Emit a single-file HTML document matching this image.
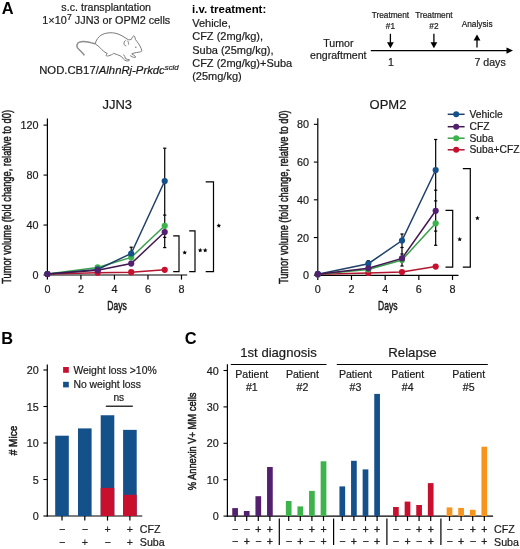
<!DOCTYPE html><html><head><meta charset="utf-8"><title>Figure</title><style>html,body{margin:0;padding:0;background:#fff;width:520px;height:549px;overflow:hidden}svg{display:block;will-change:transform}text{font-family:"Liberation Sans",sans-serif}</style></head><body><svg width="520" height="549" viewBox="0 0 520 549"><rect width="520" height="549" fill="#fff"/><text x="1.7" y="13.6" font-size="16.4" font-weight="bold" fill="#000">A</text>
<text x="106.2" y="10.5" font-size="10.7" text-anchor="middle" fill="#1a1a1a" stroke="#1a1a1a" stroke-width="0.2">s.c. transplantation</text>
<text x="106.3" y="23.9" font-size="10.8" text-anchor="middle" fill="#1a1a1a" stroke="#1a1a1a" stroke-width="0.2">1×10<tspan font-size="8.6" dx="0.4" dy="-4.2">7</tspan><tspan dy="4.2"> JJN3 or OPM2 cells</tspan></text>
<path d="M84.4,55.3 C82.6,52.6 79.2,50.2 77.4,47.6 C76.3,45.6 77,43 79.5,42.1 C82.2,41.3 86,41.6 89,42.2 C91.5,42.7 93.5,43.3 95.2,43.8" stroke="#8c8c8c" stroke-width="1.5" fill="none"/>
<path d="M95.2,43.8 C96,40 98.5,36.5 102,34.6 C105,33.2 109,32.5 112.7,32.8 C117,33.2 121,35 125,37.6 C126.5,38.6 127.6,39.4 128.4,39.7 C129.4,39.9 130.4,39.8 131.3,39.4 C132,37.8 132.8,36.2 133.6,35.9 C134.6,35.8 135.2,37.5 135.4,39.5 C137.5,42 140,45.5 141.2,48.6 C141.8,49.8 141.9,50.8 141.6,51.3 C140.5,52 138.5,52.3 136.5,52.5 C134.5,52.8 133,53.3 131.8,53.9 C133,54.6 134.8,55.6 135.8,57 C134.8,57.6 133.6,57.5 132.6,57 C131.8,56.5 131,56 130.2,55.6 M123.5,54.6 C124.5,55.8 125.2,57.2 125.5,58.6 C126.6,59.2 128.2,59.6 129.6,59.9 C129,60.8 127.5,61.1 126.2,60.8 C125,60.4 124.2,59.8 123.6,59.1 C122.8,58.3 122,57.3 121.3,56.4 C119,55.2 116,54 113.5,53.4 C112.6,54.4 110.6,55.2 108.5,55.8 C107.5,56.2 106.3,56.2 106.2,55.4 C106.3,54.5 106.8,53.8 107.2,53.4 C104,52 102,50 100.5,48.2 C99,46.5 97,45 95.2,43.8 M125.6,40.4 C124.2,41.2 123.6,43 124.3,44.7 C124.8,45.6 125.6,46 126.2,45.9 M127.2,40.6 C128.3,41.5 128.8,43 128.6,44.6" stroke="#7a7a7a" stroke-width="1.0" fill="none"/>
<circle cx="135.80" cy="47.20" r="0.75" fill="#7a7a7a"/>
<text x="39.2" y="74.1" font-size="11.3" fill="#1a1a1a" stroke="#1a1a1a" stroke-width="0.2">NOD.CB17/<tspan font-style="italic">AlhnRj-Prkdc<tspan font-size="7.8" dy="-4.2">scid</tspan></tspan></text>
<text x="192.1" y="13" font-size="11.45" font-weight="bold" fill="#000">i.v. treatment:</text>
<text x="192.2" y="26.7" font-size="11" fill="#1a1a1a" stroke="#1a1a1a" stroke-width="0.2">Vehicle,</text>
<text x="192.2" y="40.1" font-size="11" fill="#1a1a1a" stroke="#1a1a1a" stroke-width="0.2">CFZ (2mg/kg),</text>
<text x="192.2" y="53.5" font-size="11" fill="#1a1a1a" stroke="#1a1a1a" stroke-width="0.2">Suba (25mg/kg),</text>
<text x="192.2" y="66.9" font-size="11" fill="#1a1a1a" stroke="#1a1a1a" stroke-width="0.2">CFZ (2mg/kg)+Suba</text>
<text x="192.2" y="80.3" font-size="11" fill="#1a1a1a" stroke="#1a1a1a" stroke-width="0.2">(25mg/kg)</text>
<text x="338.4" y="46.6" font-size="10.6" text-anchor="middle" fill="#1a1a1a" stroke="#1a1a1a" stroke-width="0.2">Tumor</text>
<text x="338.3" y="59.2" font-size="10.6" text-anchor="middle" fill="#1a1a1a" stroke="#1a1a1a" stroke-width="0.2">engraftment</text>
<line x1="370.8" y1="50.6" x2="508" y2="50.6" stroke="#000" stroke-width="1.3"/>
<path d="M513,50.6 L506.5,47.4 L506.5,53.8 Z" stroke="#000" stroke-width="0" fill="#000"/>
<text x="390.4" y="18" font-size="8.3" text-anchor="middle" fill="#1a1a1a" stroke="#1a1a1a" stroke-width="0.2">Treatment</text>
<text x="390.4" y="28.6" font-size="8.3" text-anchor="middle" fill="#1a1a1a" stroke="#1a1a1a" stroke-width="0.2">#1</text>
<line x1="390.4" y1="33.8" x2="390.4" y2="43" stroke="#000" stroke-width="1.3"/>
<path d="M390.4,48.2 L387.0,42.2 L393.79999999999995,42.2 Z" stroke="#000" stroke-width="0" fill="#000"/>
<text x="433.9" y="18" font-size="8.3" text-anchor="middle" fill="#1a1a1a" stroke="#1a1a1a" stroke-width="0.2">Treatment</text>
<text x="433.9" y="28.6" font-size="8.3" text-anchor="middle" fill="#1a1a1a" stroke="#1a1a1a" stroke-width="0.2">#2</text>
<line x1="433.9" y1="33.8" x2="433.9" y2="43" stroke="#000" stroke-width="1.3"/>
<path d="M433.9,48.2 L430.5,42.2 L437.29999999999995,42.2 Z" stroke="#000" stroke-width="0" fill="#000"/>
<text x="477.1" y="26.9" font-size="8.3" text-anchor="middle" fill="#1a1a1a" stroke="#1a1a1a" stroke-width="0.2">Analysis</text>
<line x1="477" y1="39" x2="477" y2="47.6" stroke="#000" stroke-width="1.3"/>
<path d="M477,34.6 L473.6,40.4 L480.4,40.4 Z" stroke="#000" stroke-width="0" fill="#000"/>
<text x="390.9" y="66" font-size="10.6" text-anchor="middle" fill="#1a1a1a" stroke="#1a1a1a" stroke-width="0.2">1</text>
<text x="474.5" y="66" font-size="10.6" fill="#1a1a1a" stroke="#1a1a1a" stroke-width="0.2">7 days</text>
<text x="117.2" y="109.4" font-size="13" text-anchor="middle" fill="#1a1a1a" stroke="#1a1a1a" stroke-width="0.2">JJN3</text>
<line x1="47.4" y1="118.5" x2="47.4" y2="275.6" stroke="#000" stroke-width="1.2"/>
<line x1="46.8" y1="275" x2="187.2" y2="275" stroke="#000" stroke-width="1.2"/>
<line x1="43.5" y1="275.0" x2="47.4" y2="275.0" stroke="#000" stroke-width="1.1"/>
<text x="38.599999999999994" y="279.1" font-size="10.8" text-anchor="end" fill="#1a1a1a" stroke="#1a1a1a" stroke-width="0.2">0</text>
<line x1="43.5" y1="225.04" x2="47.4" y2="225.04" stroke="#000" stroke-width="1.1"/>
<text x="38.599999999999994" y="229.14" font-size="10.8" text-anchor="end" fill="#1a1a1a" stroke="#1a1a1a" stroke-width="0.2">40</text>
<line x1="43.5" y1="175.07999999999998" x2="47.4" y2="175.07999999999998" stroke="#000" stroke-width="1.1"/>
<text x="38.599999999999994" y="179.17999999999998" font-size="10.8" text-anchor="end" fill="#1a1a1a" stroke="#1a1a1a" stroke-width="0.2">80</text>
<line x1="43.5" y1="125.11999999999998" x2="47.4" y2="125.11999999999998" stroke="#000" stroke-width="1.1"/>
<text x="38.599999999999994" y="129.21999999999997" font-size="10.8" text-anchor="end" fill="#1a1a1a" stroke="#1a1a1a" stroke-width="0.2">120</text>
<line x1="47.4" y1="275" x2="47.4" y2="279.6" stroke="#000" stroke-width="1.2"/>
<text x="47.4" y="292.6" font-size="10.8" text-anchor="middle" fill="#1a1a1a" stroke="#1a1a1a" stroke-width="0.2">0</text>
<line x1="80.92" y1="275" x2="80.92" y2="279.6" stroke="#000" stroke-width="1.2"/>
<text x="80.92" y="292.6" font-size="10.8" text-anchor="middle" fill="#1a1a1a" stroke="#1a1a1a" stroke-width="0.2">2</text>
<line x1="114.44" y1="275" x2="114.44" y2="279.6" stroke="#000" stroke-width="1.2"/>
<text x="114.44" y="292.6" font-size="10.8" text-anchor="middle" fill="#1a1a1a" stroke="#1a1a1a" stroke-width="0.2">4</text>
<line x1="147.96" y1="275" x2="147.96" y2="279.6" stroke="#000" stroke-width="1.2"/>
<text x="147.96" y="292.6" font-size="10.8" text-anchor="middle" fill="#1a1a1a" stroke="#1a1a1a" stroke-width="0.2">6</text>
<line x1="181.48000000000002" y1="275" x2="181.48000000000002" y2="279.6" stroke="#000" stroke-width="1.2"/>
<text x="181.48000000000002" y="292.6" font-size="10.8" text-anchor="middle" fill="#1a1a1a" stroke="#1a1a1a" stroke-width="0.2">8</text>
<text transform="translate(11.4,196.9) rotate(-90) scale(0.714,1)" font-size="13" text-anchor="middle" fill="#1a1a1a" stroke="#1a1a1a" stroke-width="0.5">Tumor volume (fold change, relative to d0)</text>
<text transform="translate(117,310.3) scale(0.68,1)" font-size="12.6" text-anchor="middle" fill="#1a1a1a" stroke="#1a1a1a" stroke-width="0.5">Days</text>
<line x1="97.68" y1="266" x2="97.68" y2="271" stroke="#000" stroke-width="1.2"/>
<line x1="96.08000000000001" y1="266" x2="99.28" y2="266" stroke="#000" stroke-width="1.2"/>
<line x1="131.20000000000002" y1="247.2" x2="131.20000000000002" y2="256" stroke="#000" stroke-width="1.2"/>
<line x1="129.60000000000002" y1="247.2" x2="132.8" y2="247.2" stroke="#000" stroke-width="1.2"/>
<line x1="164.72" y1="148.2" x2="164.72" y2="247.6" stroke="#000" stroke-width="1.2"/>
<line x1="163.12" y1="148.2" x2="166.32" y2="148.2" stroke="#000" stroke-width="1.2"/>
<line x1="163.12" y1="215.1" x2="166.32" y2="215.1" stroke="#000" stroke-width="1.2"/>
<line x1="163.12" y1="237.4" x2="166.32" y2="237.4" stroke="#000" stroke-width="1.2"/>
<line x1="163.12" y1="247.6" x2="166.32" y2="247.6" stroke="#000" stroke-width="1.2"/>
<path d="M47.40,274.00 L97.68,272.70 L131.20,272.20 L164.72,269.80" stroke="#b3162f" stroke-width="1.5" fill="none"/>
<circle cx="47.40" cy="274.00" r="3.1" fill="#c8102e"/>
<circle cx="97.68" cy="272.70" r="3.1" fill="#c8102e"/>
<circle cx="131.20" cy="272.20" r="3.1" fill="#c8102e"/>
<circle cx="164.72" cy="269.80" r="3.1" fill="#c8102e"/>
<path d="M47.40,274.00 L97.68,267.40 L131.20,257.40 L164.72,225.80" stroke="#3aa04c" stroke-width="1.5" fill="none"/>
<circle cx="47.40" cy="274.00" r="3.1" fill="#3cb44b"/>
<circle cx="97.68" cy="267.40" r="3.1" fill="#3cb44b"/>
<circle cx="131.20" cy="257.40" r="3.1" fill="#3cb44b"/>
<circle cx="164.72" cy="225.80" r="3.1" fill="#3cb44b"/>
<path d="M47.40,274.00 L97.68,269.40 L131.20,253.50 L164.72,181.00" stroke="#1f4068" stroke-width="1.5" fill="none"/>
<circle cx="47.40" cy="274.00" r="3.1" fill="#14508a"/>
<circle cx="97.68" cy="269.40" r="3.1" fill="#14508a"/>
<circle cx="131.20" cy="253.50" r="3.1" fill="#14508a"/>
<circle cx="164.72" cy="181.00" r="3.1" fill="#14508a"/>
<path d="M47.40,274.00 L97.68,270.30 L131.20,263.60 L164.72,232.00" stroke="#40184f" stroke-width="1.5" fill="none"/>
<circle cx="47.40" cy="274.00" r="3.1" fill="#52206f"/>
<circle cx="97.68" cy="270.30" r="3.1" fill="#52206f"/>
<circle cx="131.20" cy="263.60" r="3.1" fill="#52206f"/>
<circle cx="164.72" cy="232.00" r="3.1" fill="#52206f"/>
<path d="M173.2,235.8 L179,235.8 L179,271.6 L173.2,271.6" stroke="#000" stroke-width="1.2" fill="none"/>
<polygon points="184.70,250.15 185.35,251.71 187.03,251.84 185.75,252.94 186.14,254.58 184.70,253.70 183.26,254.58 183.65,252.94 182.37,251.84 184.05,251.71" fill="#000"/>
<path d="M189.2,230.8 L195,230.8 L195,271.6 L189.2,271.6" stroke="#000" stroke-width="1.2" fill="none"/>
<polygon points="200.20,247.85 200.85,249.41 202.53,249.54 201.25,250.64 201.64,252.28 200.20,251.40 198.76,252.28 199.15,250.64 197.87,249.54 199.55,249.41" fill="#000"/>
<polygon points="205.20,247.85 205.85,249.41 207.53,249.54 206.25,250.64 206.64,252.28 205.20,251.40 203.76,252.28 204.15,250.64 202.87,249.54 204.55,249.41" fill="#000"/>
<path d="M205.7,181.8 L213.5,181.8 L213.5,271.6 L205.7,271.6" stroke="#000" stroke-width="1.2" fill="none"/>
<polygon points="218.80,223.25 219.45,224.81 221.13,224.94 219.85,226.04 220.24,227.68 218.80,226.80 217.36,227.68 217.75,226.04 216.47,224.94 218.15,224.81" fill="#000"/>
<text x="388" y="109.4" font-size="13" text-anchor="middle" fill="#1a1a1a" stroke="#1a1a1a" stroke-width="0.2">OPM2</text>
<line x1="317.8" y1="118.3" x2="317.8" y2="275.90000000000003" stroke="#000" stroke-width="1.2"/>
<line x1="317.2" y1="275.3" x2="458.5" y2="275.3" stroke="#000" stroke-width="1.2"/>
<line x1="313.90000000000003" y1="275.3" x2="317.8" y2="275.3" stroke="#000" stroke-width="1.1"/>
<text x="309.0" y="279.40000000000003" font-size="10.8" text-anchor="end" fill="#1a1a1a" stroke="#1a1a1a" stroke-width="0.2">0</text>
<line x1="313.90000000000003" y1="237.56" x2="317.8" y2="237.56" stroke="#000" stroke-width="1.1"/>
<text x="309.0" y="241.66" font-size="10.8" text-anchor="end" fill="#1a1a1a" stroke="#1a1a1a" stroke-width="0.2">20</text>
<line x1="313.90000000000003" y1="199.82" x2="317.8" y2="199.82" stroke="#000" stroke-width="1.1"/>
<text x="309.0" y="203.92" font-size="10.8" text-anchor="end" fill="#1a1a1a" stroke="#1a1a1a" stroke-width="0.2">40</text>
<line x1="313.90000000000003" y1="162.08" x2="317.8" y2="162.08" stroke="#000" stroke-width="1.1"/>
<text x="309.0" y="166.18" font-size="10.8" text-anchor="end" fill="#1a1a1a" stroke="#1a1a1a" stroke-width="0.2">60</text>
<line x1="313.90000000000003" y1="124.34" x2="317.8" y2="124.34" stroke="#000" stroke-width="1.1"/>
<text x="309.0" y="128.44" font-size="10.8" text-anchor="end" fill="#1a1a1a" stroke="#1a1a1a" stroke-width="0.2">80</text>
<line x1="317.8" y1="275.3" x2="317.8" y2="279.90000000000003" stroke="#000" stroke-width="1.2"/>
<text x="317.8" y="292.6" font-size="10.8" text-anchor="middle" fill="#1a1a1a" stroke="#1a1a1a" stroke-width="0.2">0</text>
<line x1="351.48" y1="275.3" x2="351.48" y2="279.90000000000003" stroke="#000" stroke-width="1.2"/>
<text x="351.48" y="292.6" font-size="10.8" text-anchor="middle" fill="#1a1a1a" stroke="#1a1a1a" stroke-width="0.2">2</text>
<line x1="385.16" y1="275.3" x2="385.16" y2="279.90000000000003" stroke="#000" stroke-width="1.2"/>
<text x="385.16" y="292.6" font-size="10.8" text-anchor="middle" fill="#1a1a1a" stroke="#1a1a1a" stroke-width="0.2">4</text>
<line x1="418.84000000000003" y1="275.3" x2="418.84000000000003" y2="279.90000000000003" stroke="#000" stroke-width="1.2"/>
<text x="418.84000000000003" y="292.6" font-size="10.8" text-anchor="middle" fill="#1a1a1a" stroke="#1a1a1a" stroke-width="0.2">6</text>
<line x1="452.52" y1="275.3" x2="452.52" y2="279.90000000000003" stroke="#000" stroke-width="1.2"/>
<text x="452.52" y="292.6" font-size="10.8" text-anchor="middle" fill="#1a1a1a" stroke="#1a1a1a" stroke-width="0.2">8</text>
<text transform="translate(287.6,197.2) rotate(-90) scale(0.714,1)" font-size="13" text-anchor="middle" fill="#1a1a1a" stroke="#1a1a1a" stroke-width="0.5">Tumor volume (fold change, relative to d0)</text>
<text transform="translate(387.7,310.3) scale(0.68,1)" font-size="12.6" text-anchor="middle" fill="#1a1a1a" stroke="#1a1a1a" stroke-width="0.5">Days</text>
<line x1="368.32" y1="260.8" x2="368.32" y2="267.2" stroke="#000" stroke-width="1.2"/>
<line x1="366.71999999999997" y1="260.8" x2="369.92" y2="260.8" stroke="#000" stroke-width="1.2"/>
<line x1="366.71999999999997" y1="267.2" x2="369.92" y2="267.2" stroke="#000" stroke-width="1.2"/>
<line x1="402.0" y1="234" x2="402.0" y2="266" stroke="#000" stroke-width="1.2"/>
<line x1="400.4" y1="234" x2="403.6" y2="234" stroke="#000" stroke-width="1.2"/>
<line x1="400.4" y1="247.5" x2="403.6" y2="247.5" stroke="#000" stroke-width="1.2"/>
<line x1="400.4" y1="254" x2="403.6" y2="254" stroke="#000" stroke-width="1.2"/>
<line x1="400.4" y1="266" x2="403.6" y2="266" stroke="#000" stroke-width="1.2"/>
<line x1="435.68" y1="139.5" x2="435.68" y2="245.3" stroke="#000" stroke-width="1.2"/>
<line x1="434.08" y1="139.5" x2="437.28000000000003" y2="139.5" stroke="#000" stroke-width="1.2"/>
<line x1="434.08" y1="190.2" x2="437.28000000000003" y2="190.2" stroke="#000" stroke-width="1.2"/>
<line x1="434.08" y1="200.9" x2="437.28000000000003" y2="200.9" stroke="#000" stroke-width="1.2"/>
<line x1="434.08" y1="231.1" x2="437.28000000000003" y2="231.1" stroke="#000" stroke-width="1.2"/>
<line x1="434.08" y1="245.3" x2="437.28000000000003" y2="245.3" stroke="#000" stroke-width="1.2"/>
<path d="M317.80,274.20 L368.32,273.00 L402.00,272.00 L435.68,266.60" stroke="#b3162f" stroke-width="1.5" fill="none"/>
<circle cx="317.80" cy="274.20" r="3.1" fill="#c8102e"/>
<circle cx="368.32" cy="273.00" r="3.1" fill="#c8102e"/>
<circle cx="402.00" cy="272.00" r="3.1" fill="#c8102e"/>
<circle cx="435.68" cy="266.60" r="3.1" fill="#c8102e"/>
<path d="M317.80,274.20 L368.32,269.50 L402.00,260.00 L435.68,223.30" stroke="#3aa04c" stroke-width="1.5" fill="none"/>
<circle cx="317.80" cy="274.20" r="3.1" fill="#3cb44b"/>
<circle cx="368.32" cy="269.50" r="3.1" fill="#3cb44b"/>
<circle cx="402.00" cy="260.00" r="3.1" fill="#3cb44b"/>
<circle cx="435.68" cy="223.30" r="3.1" fill="#3cb44b"/>
<path d="M317.80,274.20 L368.32,263.70 L402.00,240.60 L435.68,170.00" stroke="#1f4068" stroke-width="1.5" fill="none"/>
<circle cx="317.80" cy="274.20" r="3.1" fill="#14508a"/>
<circle cx="368.32" cy="263.70" r="3.1" fill="#14508a"/>
<circle cx="402.00" cy="240.60" r="3.1" fill="#14508a"/>
<circle cx="435.68" cy="170.00" r="3.1" fill="#14508a"/>
<path d="M317.80,274.20 L368.32,268.30 L402.00,258.40 L435.68,210.80" stroke="#40184f" stroke-width="1.5" fill="none"/>
<circle cx="317.80" cy="274.20" r="3.1" fill="#52206f"/>
<circle cx="368.32" cy="268.30" r="3.1" fill="#52206f"/>
<circle cx="402.00" cy="258.40" r="3.1" fill="#52206f"/>
<circle cx="435.68" cy="210.80" r="3.1" fill="#52206f"/>
<path d="M445.5,210.4 L452.7,210.4 L452.7,267.2 L445.5,267.2" stroke="#000" stroke-width="1.2" fill="none"/>
<polygon points="459.70,236.85 460.35,238.41 462.03,238.54 460.75,239.64 461.14,241.28 459.70,240.40 458.26,241.28 458.65,239.64 457.37,238.54 459.05,238.41" fill="#000"/>
<path d="M462.8,168.7 L470.3,168.7 L470.3,267.2 L462.8,267.2" stroke="#000" stroke-width="1.2" fill="none"/>
<polygon points="477.40,215.75 478.05,217.31 479.73,217.44 478.45,218.54 478.84,220.18 477.40,219.30 475.96,220.18 476.35,218.54 475.07,217.44 476.75,217.31" fill="#000"/>
<line x1="447.7" y1="114.3" x2="464.6" y2="114.3" stroke="#1f4068" stroke-width="1.5"/>
<circle cx="456.20" cy="114.30" r="3.0" fill="#14508a"/>
<text x="469.5" y="117.89999999999999" font-size="10.3" fill="#1a1a1a" stroke="#1a1a1a" stroke-width="0.2">Vehicle</text>
<line x1="447.7" y1="126.7" x2="464.6" y2="126.7" stroke="#40184f" stroke-width="1.5"/>
<circle cx="456.20" cy="126.70" r="3.0" fill="#52206f"/>
<text x="469.5" y="130.3" font-size="10.3" fill="#1a1a1a" stroke="#1a1a1a" stroke-width="0.2">CFZ</text>
<line x1="447.7" y1="138.2" x2="464.6" y2="138.2" stroke="#3aa04c" stroke-width="1.5"/>
<circle cx="456.20" cy="138.20" r="3.0" fill="#3cb44b"/>
<text x="469.5" y="141.79999999999998" font-size="10.3" fill="#1a1a1a" stroke="#1a1a1a" stroke-width="0.2">Suba</text>
<line x1="447.7" y1="149.8" x2="464.6" y2="149.8" stroke="#b3162f" stroke-width="1.5"/>
<circle cx="456.20" cy="149.80" r="3.0" fill="#c8102e"/>
<text x="469.5" y="153.4" font-size="10.3" fill="#1a1a1a" stroke="#1a1a1a" stroke-width="0.2">Suba+CFZ</text>
<text x="1.2" y="343.9" font-size="16.4" font-weight="bold" fill="#000">B</text>
<line x1="47.3" y1="364.6" x2="47.3" y2="516.6" stroke="#000" stroke-width="1.2"/>
<line x1="46.699999999999996" y1="516" x2="142.3" y2="516" stroke="#000" stroke-width="1.2"/>
<line x1="43.4" y1="516.0" x2="47.3" y2="516.0" stroke="#000" stroke-width="1.1"/>
<text x="38.8" y="520.1" font-size="10.8" text-anchor="end" fill="#1a1a1a" stroke="#1a1a1a" stroke-width="0.2">0</text>
<line x1="43.4" y1="479.5" x2="47.3" y2="479.5" stroke="#000" stroke-width="1.1"/>
<text x="38.8" y="483.6" font-size="10.8" text-anchor="end" fill="#1a1a1a" stroke="#1a1a1a" stroke-width="0.2">5</text>
<line x1="43.4" y1="443.0" x2="47.3" y2="443.0" stroke="#000" stroke-width="1.1"/>
<text x="38.8" y="447.1" font-size="10.8" text-anchor="end" fill="#1a1a1a" stroke="#1a1a1a" stroke-width="0.2">10</text>
<line x1="43.4" y1="406.5" x2="47.3" y2="406.5" stroke="#000" stroke-width="1.1"/>
<text x="38.8" y="410.6" font-size="10.8" text-anchor="end" fill="#1a1a1a" stroke="#1a1a1a" stroke-width="0.2">15</text>
<line x1="43.4" y1="370.0" x2="47.3" y2="370.0" stroke="#000" stroke-width="1.1"/>
<text x="38.8" y="374.1" font-size="10.8" text-anchor="end" fill="#1a1a1a" stroke="#1a1a1a" stroke-width="0.2">20</text>
<rect x="55.20" y="435.70" width="13.60" height="80.30" fill="#14508a"/>
<line x1="62" y1="516" x2="62" y2="520.6" stroke="#000" stroke-width="1.2"/>
<rect x="78.00" y="428.40" width="13.60" height="87.60" fill="#14508a"/>
<line x1="84.8" y1="516" x2="84.8" y2="520.6" stroke="#000" stroke-width="1.2"/>
<rect x="100.70" y="415.26" width="13.60" height="100.74" fill="#14508a"/>
<rect x="100.70" y="487.89" width="13.60" height="28.11" fill="#c8102e"/>
<line x1="107.5" y1="516" x2="107.5" y2="520.6" stroke="#000" stroke-width="1.2"/>
<rect x="123.10" y="429.86" width="13.60" height="86.14" fill="#14508a"/>
<rect x="123.10" y="494.83" width="13.60" height="21.17" fill="#c8102e"/>
<line x1="129.9" y1="516" x2="129.9" y2="520.6" stroke="#000" stroke-width="1.2"/>
<rect x="63.10" y="367.00" width="5.70" height="5.80" fill="#c8102e"/>
<rect x="63.10" y="381.80" width="5.70" height="5.60" fill="#14508a"/>
<text x="73.4" y="373.5" font-size="10.4" fill="#1a1a1a" stroke="#1a1a1a" stroke-width="0.2">Weight loss &gt;10%</text>
<text x="73.4" y="387.6" font-size="10.4" fill="#1a1a1a" stroke="#1a1a1a" stroke-width="0.2">No weight loss</text>
<text x="118.8" y="401.2" font-size="10.2" text-anchor="middle" fill="#1a1a1a" stroke="#1a1a1a" stroke-width="0.2">ns</text>
<line x1="105.8" y1="406.2" x2="132.8" y2="406.2" stroke="#000" stroke-width="1.2"/>
<text transform="translate(17.3,440.5) rotate(-90) scale(0.85,1)" font-size="11.8" text-anchor="middle" fill="#1a1a1a" stroke="#1a1a1a" stroke-width="0.5"># Mice</text>
<text x="62" y="533.0" font-size="10.7" text-anchor="middle" fill="#222" stroke="#222" stroke-width="0.15">−</text>
<text x="62" y="545.5" font-size="10.7" text-anchor="middle" fill="#222" stroke="#222" stroke-width="0.15">−</text>
<text x="84.8" y="533.0" font-size="10.7" text-anchor="middle" fill="#222" stroke="#222" stroke-width="0.15">−</text>
<text x="84.8" y="545.5" font-size="10.7" text-anchor="middle" fill="#222" stroke="#222" stroke-width="0.15">+</text>
<text x="107.5" y="533.0" font-size="10.7" text-anchor="middle" fill="#222" stroke="#222" stroke-width="0.15">+</text>
<text x="107.5" y="545.5" font-size="10.7" text-anchor="middle" fill="#222" stroke="#222" stroke-width="0.15">−</text>
<text x="129.9" y="533.0" font-size="10.7" text-anchor="middle" fill="#222" stroke="#222" stroke-width="0.15">+</text>
<text x="129.9" y="545.5" font-size="10.7" text-anchor="middle" fill="#222" stroke="#222" stroke-width="0.15">+</text>
<text x="139.8" y="533.2" font-size="10.7" fill="#1a1a1a" stroke="#1a1a1a" stroke-width="0.2">CFZ</text>
<text x="139.8" y="545.7" font-size="10.7" fill="#1a1a1a" stroke="#1a1a1a" stroke-width="0.2">Suba</text>
<text x="184.8" y="343.9" font-size="16.4" font-weight="bold" fill="#000">C</text>
<line x1="227.4" y1="364.2" x2="227.4" y2="516.7" stroke="#000" stroke-width="1.2"/>
<line x1="226.8" y1="516.1" x2="493.1" y2="516.1" stroke="#000" stroke-width="1.2"/>
<line x1="223.5" y1="516.1" x2="227.4" y2="516.1" stroke="#000" stroke-width="1.1"/>
<text x="218.8" y="520.2" font-size="10.8" text-anchor="end" fill="#1a1a1a" stroke="#1a1a1a" stroke-width="0.2">0</text>
<line x1="223.5" y1="479.70000000000005" x2="227.4" y2="479.70000000000005" stroke="#000" stroke-width="1.1"/>
<text x="218.8" y="483.80000000000007" font-size="10.8" text-anchor="end" fill="#1a1a1a" stroke="#1a1a1a" stroke-width="0.2">10</text>
<line x1="223.5" y1="443.3" x2="227.4" y2="443.3" stroke="#000" stroke-width="1.1"/>
<text x="218.8" y="447.40000000000003" font-size="10.8" text-anchor="end" fill="#1a1a1a" stroke="#1a1a1a" stroke-width="0.2">20</text>
<line x1="223.5" y1="406.90000000000003" x2="227.4" y2="406.90000000000003" stroke="#000" stroke-width="1.1"/>
<text x="218.8" y="411.00000000000006" font-size="10.8" text-anchor="end" fill="#1a1a1a" stroke="#1a1a1a" stroke-width="0.2">30</text>
<line x1="223.5" y1="370.5" x2="227.4" y2="370.5" stroke="#000" stroke-width="1.1"/>
<text x="218.8" y="374.6" font-size="10.8" text-anchor="end" fill="#1a1a1a" stroke="#1a1a1a" stroke-width="0.2">40</text>
<text transform="translate(195.6,441.5) rotate(-90) scale(0.85,1)" font-size="11" text-anchor="middle" fill="#1a1a1a" stroke="#1a1a1a" stroke-width="0.5">% Annexin V+ MM cells</text>
<rect x="232.25" y="508.10" width="5.70" height="8.00" fill="#52206f"/>
<line x1="235.1" y1="516.1" x2="235.1" y2="520.9" stroke="#000" stroke-width="1.2"/>
<text x="235.1" y="532.6" font-size="10.5" text-anchor="middle" fill="#222" stroke="#222" stroke-width="0.35">−</text>
<text x="235.1" y="545.4" font-size="10.5" text-anchor="middle" fill="#222" stroke="#222" stroke-width="0.35">−</text>
<rect x="243.85" y="511.00" width="5.70" height="5.10" fill="#52206f"/>
<line x1="246.7" y1="516.1" x2="246.7" y2="520.9" stroke="#000" stroke-width="1.2"/>
<text x="246.7" y="532.6" font-size="10.5" text-anchor="middle" fill="#222" stroke="#222" stroke-width="0.35">−</text>
<text x="246.7" y="545.4" font-size="10.5" text-anchor="middle" fill="#222" stroke="#222" stroke-width="0.35">+</text>
<rect x="255.45" y="496.20" width="5.70" height="19.90" fill="#52206f"/>
<line x1="258.3" y1="516.1" x2="258.3" y2="520.9" stroke="#000" stroke-width="1.2"/>
<text x="258.3" y="532.6" font-size="10.5" text-anchor="middle" fill="#222" stroke="#222" stroke-width="0.35">+</text>
<text x="258.3" y="545.4" font-size="10.5" text-anchor="middle" fill="#222" stroke="#222" stroke-width="0.35">−</text>
<rect x="267.05" y="467.00" width="5.70" height="49.10" fill="#52206f"/>
<line x1="269.9" y1="516.1" x2="269.9" y2="520.9" stroke="#000" stroke-width="1.2"/>
<text x="269.9" y="532.6" font-size="10.5" text-anchor="middle" fill="#222" stroke="#222" stroke-width="0.35">+</text>
<text x="269.9" y="545.4" font-size="10.5" text-anchor="middle" fill="#222" stroke="#222" stroke-width="0.35">+</text>
<line x1="279.3" y1="518.5" x2="279.3" y2="545" stroke="#000" stroke-width="1.2"/>
<rect x="285.85" y="501.00" width="5.70" height="15.10" fill="#3cb44b"/>
<line x1="288.7" y1="516.1" x2="288.7" y2="520.9" stroke="#000" stroke-width="1.2"/>
<text x="288.7" y="532.6" font-size="10.5" text-anchor="middle" fill="#222" stroke="#222" stroke-width="0.35">−</text>
<text x="288.7" y="545.4" font-size="10.5" text-anchor="middle" fill="#222" stroke="#222" stroke-width="0.35">−</text>
<rect x="297.45" y="506.40" width="5.70" height="9.70" fill="#3cb44b"/>
<line x1="300.3" y1="516.1" x2="300.3" y2="520.9" stroke="#000" stroke-width="1.2"/>
<text x="300.3" y="532.6" font-size="10.5" text-anchor="middle" fill="#222" stroke="#222" stroke-width="0.35">−</text>
<text x="300.3" y="545.4" font-size="10.5" text-anchor="middle" fill="#222" stroke="#222" stroke-width="0.35">+</text>
<rect x="309.05" y="490.90" width="5.70" height="25.20" fill="#3cb44b"/>
<line x1="311.9" y1="516.1" x2="311.9" y2="520.9" stroke="#000" stroke-width="1.2"/>
<text x="311.9" y="532.6" font-size="10.5" text-anchor="middle" fill="#222" stroke="#222" stroke-width="0.35">+</text>
<text x="311.9" y="545.4" font-size="10.5" text-anchor="middle" fill="#222" stroke="#222" stroke-width="0.35">−</text>
<rect x="320.65" y="461.30" width="5.70" height="54.80" fill="#3cb44b"/>
<line x1="323.5" y1="516.1" x2="323.5" y2="520.9" stroke="#000" stroke-width="1.2"/>
<text x="323.5" y="532.6" font-size="10.5" text-anchor="middle" fill="#222" stroke="#222" stroke-width="0.35">+</text>
<text x="323.5" y="545.4" font-size="10.5" text-anchor="middle" fill="#222" stroke="#222" stroke-width="0.35">+</text>
<line x1="333.6" y1="518.5" x2="333.6" y2="545" stroke="#000" stroke-width="1.2"/>
<rect x="339.45" y="486.40" width="5.70" height="29.70" fill="#14508a"/>
<line x1="342.3" y1="516.1" x2="342.3" y2="520.9" stroke="#000" stroke-width="1.2"/>
<text x="342.3" y="532.6" font-size="10.5" text-anchor="middle" fill="#222" stroke="#222" stroke-width="0.35">−</text>
<text x="342.3" y="545.4" font-size="10.5" text-anchor="middle" fill="#222" stroke="#222" stroke-width="0.35">−</text>
<rect x="351.05" y="460.80" width="5.70" height="55.30" fill="#14508a"/>
<line x1="353.90000000000003" y1="516.1" x2="353.90000000000003" y2="520.9" stroke="#000" stroke-width="1.2"/>
<text x="353.90000000000003" y="532.6" font-size="10.5" text-anchor="middle" fill="#222" stroke="#222" stroke-width="0.35">−</text>
<text x="353.90000000000003" y="545.4" font-size="10.5" text-anchor="middle" fill="#222" stroke="#222" stroke-width="0.35">+</text>
<rect x="362.65" y="469.40" width="5.70" height="46.70" fill="#14508a"/>
<line x1="365.5" y1="516.1" x2="365.5" y2="520.9" stroke="#000" stroke-width="1.2"/>
<text x="365.5" y="532.6" font-size="10.5" text-anchor="middle" fill="#222" stroke="#222" stroke-width="0.35">+</text>
<text x="365.5" y="545.4" font-size="10.5" text-anchor="middle" fill="#222" stroke="#222" stroke-width="0.35">−</text>
<rect x="374.25" y="393.90" width="5.70" height="122.20" fill="#14508a"/>
<line x1="377.1" y1="516.1" x2="377.1" y2="520.9" stroke="#000" stroke-width="1.2"/>
<text x="377.1" y="532.6" font-size="10.5" text-anchor="middle" fill="#222" stroke="#222" stroke-width="0.35">+</text>
<text x="377.1" y="545.4" font-size="10.5" text-anchor="middle" fill="#222" stroke="#222" stroke-width="0.35">+</text>
<line x1="386.9" y1="518.5" x2="386.9" y2="545" stroke="#000" stroke-width="1.2"/>
<rect x="393.05" y="507.00" width="5.70" height="9.10" fill="#c8102e"/>
<line x1="395.9" y1="516.1" x2="395.9" y2="520.9" stroke="#000" stroke-width="1.2"/>
<text x="395.9" y="532.6" font-size="10.5" text-anchor="middle" fill="#222" stroke="#222" stroke-width="0.35">−</text>
<text x="395.9" y="545.4" font-size="10.5" text-anchor="middle" fill="#222" stroke="#222" stroke-width="0.35">−</text>
<rect x="404.65" y="501.60" width="5.70" height="14.50" fill="#c8102e"/>
<line x1="407.5" y1="516.1" x2="407.5" y2="520.9" stroke="#000" stroke-width="1.2"/>
<text x="407.5" y="532.6" font-size="10.5" text-anchor="middle" fill="#222" stroke="#222" stroke-width="0.35">−</text>
<text x="407.5" y="545.4" font-size="10.5" text-anchor="middle" fill="#222" stroke="#222" stroke-width="0.35">+</text>
<rect x="416.25" y="505.00" width="5.70" height="11.10" fill="#c8102e"/>
<line x1="419.09999999999997" y1="516.1" x2="419.09999999999997" y2="520.9" stroke="#000" stroke-width="1.2"/>
<text x="419.09999999999997" y="532.6" font-size="10.5" text-anchor="middle" fill="#222" stroke="#222" stroke-width="0.35">+</text>
<text x="419.09999999999997" y="545.4" font-size="10.5" text-anchor="middle" fill="#222" stroke="#222" stroke-width="0.35">−</text>
<rect x="427.85" y="483.10" width="5.70" height="33.00" fill="#c8102e"/>
<line x1="430.7" y1="516.1" x2="430.7" y2="520.9" stroke="#000" stroke-width="1.2"/>
<text x="430.7" y="532.6" font-size="10.5" text-anchor="middle" fill="#222" stroke="#222" stroke-width="0.35">+</text>
<text x="430.7" y="545.4" font-size="10.5" text-anchor="middle" fill="#222" stroke="#222" stroke-width="0.35">+</text>
<line x1="440.9" y1="518.5" x2="440.9" y2="545" stroke="#000" stroke-width="1.2"/>
<rect x="446.65" y="507.40" width="5.70" height="8.70" fill="#f7941d"/>
<line x1="449.5" y1="516.1" x2="449.5" y2="520.9" stroke="#000" stroke-width="1.2"/>
<text x="449.5" y="532.6" font-size="10.5" text-anchor="middle" fill="#222" stroke="#222" stroke-width="0.35">−</text>
<text x="449.5" y="545.4" font-size="10.5" text-anchor="middle" fill="#222" stroke="#222" stroke-width="0.35">−</text>
<rect x="458.25" y="507.90" width="5.70" height="8.20" fill="#f7941d"/>
<line x1="461.1" y1="516.1" x2="461.1" y2="520.9" stroke="#000" stroke-width="1.2"/>
<text x="461.1" y="532.6" font-size="10.5" text-anchor="middle" fill="#222" stroke="#222" stroke-width="0.35">−</text>
<text x="461.1" y="545.4" font-size="10.5" text-anchor="middle" fill="#222" stroke="#222" stroke-width="0.35">+</text>
<rect x="469.85" y="509.80" width="5.70" height="6.30" fill="#f7941d"/>
<line x1="472.7" y1="516.1" x2="472.7" y2="520.9" stroke="#000" stroke-width="1.2"/>
<text x="472.7" y="532.6" font-size="10.5" text-anchor="middle" fill="#222" stroke="#222" stroke-width="0.35">+</text>
<text x="472.7" y="545.4" font-size="10.5" text-anchor="middle" fill="#222" stroke="#222" stroke-width="0.35">−</text>
<rect x="481.45" y="446.70" width="5.70" height="69.40" fill="#f7941d"/>
<line x1="484.3" y1="516.1" x2="484.3" y2="520.9" stroke="#000" stroke-width="1.2"/>
<text x="484.3" y="532.6" font-size="10.5" text-anchor="middle" fill="#222" stroke="#222" stroke-width="0.35">+</text>
<text x="484.3" y="545.4" font-size="10.5" text-anchor="middle" fill="#222" stroke="#222" stroke-width="0.35">+</text>
<text x="494" y="533.2" font-size="10.7" fill="#1a1a1a" stroke="#1a1a1a" stroke-width="0.2">CFZ</text>
<text x="494" y="545.7" font-size="10.7" fill="#1a1a1a" stroke="#1a1a1a" stroke-width="0.2">Suba</text>
<text x="278.5" y="357.3" font-size="13.1" text-anchor="middle" fill="#1a1a1a" stroke="#1a1a1a" stroke-width="0.2">1st diagnosis</text>
<text x="412.5" y="357.3" font-size="13.2" text-anchor="middle" fill="#1a1a1a" stroke="#1a1a1a" stroke-width="0.2">Relapse</text>
<line x1="230.8" y1="364.5" x2="326.5" y2="364.5" stroke="#000" stroke-width="1.1"/>
<line x1="336.8" y1="364.5" x2="487.8" y2="364.5" stroke="#000" stroke-width="1.1"/>
<text x="251.8" y="377.6" font-size="10.6" text-anchor="middle" fill="#1a1a1a" stroke="#1a1a1a" stroke-width="0.2">Patient</text>
<text x="251.8" y="391.2" font-size="10.6" text-anchor="middle" fill="#1a1a1a" stroke="#1a1a1a" stroke-width="0.2">#1</text>
<text x="302.4" y="377.6" font-size="10.6" text-anchor="middle" fill="#1a1a1a" stroke="#1a1a1a" stroke-width="0.2">Patient</text>
<text x="302.4" y="391.2" font-size="10.6" text-anchor="middle" fill="#1a1a1a" stroke="#1a1a1a" stroke-width="0.2">#2</text>
<text x="355.4" y="377.6" font-size="10.6" text-anchor="middle" fill="#1a1a1a" stroke="#1a1a1a" stroke-width="0.2">Patient</text>
<text x="355.4" y="391.2" font-size="10.6" text-anchor="middle" fill="#1a1a1a" stroke="#1a1a1a" stroke-width="0.2">#3</text>
<text x="407.7" y="377.6" font-size="10.6" text-anchor="middle" fill="#1a1a1a" stroke="#1a1a1a" stroke-width="0.2">Patient</text>
<text x="407.7" y="391.2" font-size="10.6" text-anchor="middle" fill="#1a1a1a" stroke="#1a1a1a" stroke-width="0.2">#4</text>
<text x="468.7" y="377.6" font-size="10.6" text-anchor="middle" fill="#1a1a1a" stroke="#1a1a1a" stroke-width="0.2">Patient</text>
<text x="468.7" y="391.2" font-size="10.6" text-anchor="middle" fill="#1a1a1a" stroke="#1a1a1a" stroke-width="0.2">#5</text></svg></body></html>
